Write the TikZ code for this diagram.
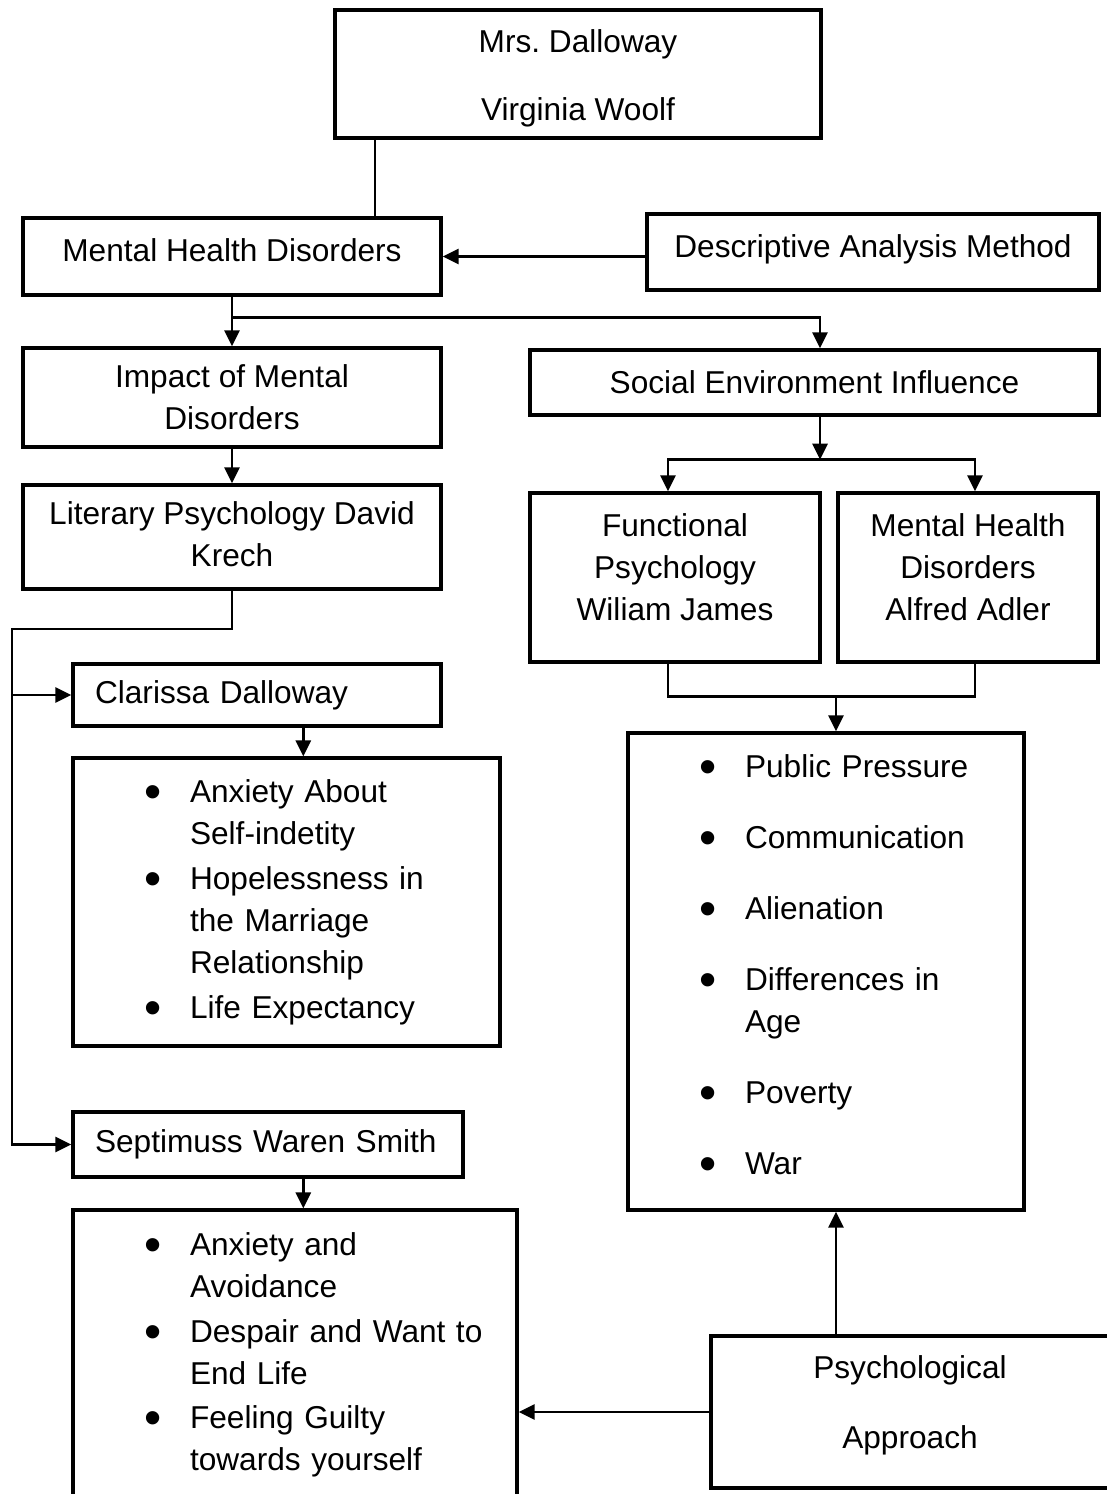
\documentclass[tikz,border=0pt]{standalone}
\usepackage{fontspec}
\setmainfont{Liberation Sans}
\usetikzlibrary{arrows.meta}
\frenchspacing
\newcommand{\dotitem}{\raisebox{-3.3pt}{\scalebox{1.55}{\textbullet}}}

\begin{document}
\begin{tikzpicture}[x=0.02cm, y=-0.02cm,
		box/.style={rectangle, draw, line width=1.9pt, inner sep=0pt, font=\fontsize{18}{23.9}\selectfont, align=center},
		lbox/.style={box, align=left, inner xsep=0.44cm},
		list/.style={box, align=left, inner xsep=1.42cm},
		arr/.style={-{Triangle[length=0.32cm, width=0.3cm]}, line width=1.6pt},
		link/.style={line width=1.6pt}]
		\useasboundingbox (0,0) rectangle (1106,1494);
		
		%Nodes
		\node[box, minimum width=9.72cm, minimum height=2.56cm, text height=2.0cm] (top) at (578,74) {Mrs.\ Dalloway\\[0.52cm]Virginia Woolf};
		\node[box, minimum width=8.36cm, minimum height=1.54cm, text depth=0.24cm] (mhd) at (232,256.5) {Mental Health Disorders};
		\node[box, minimum width=9.04cm, minimum height=1.52cm, text depth=0.25cm] (dam) at (873,252) {Descriptive Analysis Method};
		\node[box, minimum width=8.36cm, minimum height=1.98cm] (impact) at (232,397.5) {Impact of Mental\\Disorders};
		\node[box, minimum width=8.36cm, minimum height=2.08cm, text depth=0.12cm] (lit) at (232,537) {Literary Psychology David\\Krech};
		\node[box, minimum width=11.38cm, minimum height=1.3cm] (sei) at (814.5,382.5) {Social Environment Influence};
		\node[box, minimum width=5.8cm, minimum height=3.38cm, text depth=0.4cm] (fun) at (675,577.5) {Functional\\Psychology\\Wiliam James};
		\node[box, minimum width=5.2cm, minimum height=3.38cm, text depth=0.4cm] (adl) at (968,577.5) {Mental Health\\Disorders\\Alfred Adler};
		\node[lbox, text width=6.48cm, minimum height=1.24cm] (clar) at (257,695) {Clarissa Dalloway};
		\node[lbox, text width=6.92cm, minimum height=1.3cm] (sept) at (268,1144.5) {Septimuss Waren Smith};
		\node[box, minimum width=7.96cm, minimum height=3.04cm, text depth=0.41cm] (psy) at (910,1412) {Psychological\\[0.56cm]Approach};
		
		%Lists
		\node[list, text width=5.70cm, minimum height=5.76cm] (clarlist) at (286.5,902) {%
			\begin{tabular}{@{}p{0.92cm}@{}l@{}}
				\dotitem & Anxiety About\\
				& Self-indetity\\[0.06cm]
				\dotitem & Hopelessness in\\
				& the Marriage\\
				& Relationship\\[0.06cm]
				\dotitem & Life Expectancy
			\end{tabular}};
		\node[list, text width=6.04cm, minimum height=5.8cm] (septlist) at (295,1355) {%
			\begin{tabular}{@{}p{0.92cm}@{}l@{}}
				\dotitem & Anxiety and\\
				& Avoidance\\[0.05cm]
				\dotitem & Despair and Want to\\
				& End Life\\[0.05cm]
				\dotitem & Feeling Guilty\\
				& towards yourself
			\end{tabular}};
		\node[list, text width=5.08cm, minimum height=9.54cm] (factors) at (826,971.5) {%
			\begin{tabular}{@{}p{0.92cm}@{}l@{}}
				\dotitem & Public Pressure\\[0.58cm]
				\dotitem & Communication\\[0.58cm]
				\dotitem & Alienation\\[0.58cm]
				\dotitem & Differences in\\
				& Age\\[0.58cm]
				\dotitem & Poverty\\[0.58cm]
				\dotitem & War\\[0.16cm]
			\end{tabular}};
		
		%Helper points
		\path ([xshift=0.84cm]top.south west) coordinate (tl);
		\path (mhd.south) ++(0,21) coordinate (fork);
		\path ([xshift=0.11cm]sei.north) coordinate (sin);
		\path ([xshift=0.11cm]sei.south) ++(0,43) coordinate (split);
		\path (fun.south) ++(0,33) coordinate (merge);
		\path ([xshift=0.2cm]factors.north) coordinate (fin);
		\path ([xshift=0.2cm]factors.south) coordinate (fout);
		\path ([xshift=4.64cm]clar.south west) coordinate (ca);
		\path ([xshift=4.64cm]sept.south west) coordinate (sa);
		\coordinate (rail) at (12,629);
		
		%Connectors
		\draw[line width=1pt] (tl) -- (tl |- mhd.north);
		\draw[arr] (dam.west |- mhd.east) -- (mhd.east);
		\draw[arr] (mhd.south) -- (impact.north);
		\draw[arr] (fork) -| (sin);
		\draw[arr] (impact.south) -- (lit.north);
		\draw[arr] (lit.south) |- (rail) |- (sept.west);
		\draw[arr] (rail |- clar.west) -- (clar.west);
		\draw[arr] (ca) -- (ca |- clarlist.north);
		\draw[arr] (sa) -- (sa |- septlist.north);
		\draw[arr] (split |- sei.south) -- (split);
		\draw[arr] (split) -| ([xshift=-0.14cm]fun.north);
		\draw[arr] (split) -| ([xshift=0.14cm]adl.north);
		\draw[link] ([xshift=-0.14cm]fun.south) |- ([xshift=0.14cm]merge -| adl.south) -- ([xshift=0.14cm]adl.south);
		\draw[arr] (merge -| fin) -- (fin);
		\draw[arr] (psy.north -| fout) -- (fout);
		\draw[arr] (psy.west) -- (psy.west -| septlist.east);
	\end{tikzpicture}
\end{document}
